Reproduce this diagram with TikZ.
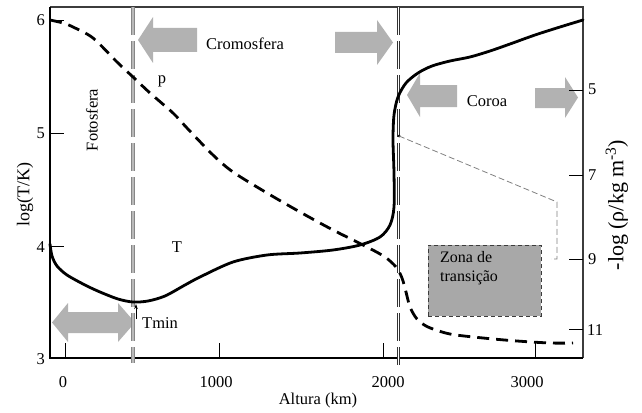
\documentclass[tikz,border=0pt]{standalone}
\usepackage{fontspec}
\setmainfont{Liberation Serif}
\usetikzlibrary{arrows.meta}
\definecolor{arrowgray}{RGB}{178,178,178}
\definecolor{boxgray}{RGB}{168,168,168}
\definecolor{framegray}{RGB}{60,60,60}
\begin{document}
\begin{tikzpicture}[x=1pt,y=-1pt,
  lbl/.style={font=\fontsize{16.5}{19}\selectfont, inner sep=0pt},
  blockarrow/.style={fill=arrowgray, draw=none},
  tcurve/.style={line width=2.8pt, line join=round, line cap=round},
  rhocurve/.style={line width=2.8pt, dash pattern=on 12pt off 7pt},
  vlineA/.style={draw=gray!95, line width=1.3pt, double=gray!55, double distance=1.1pt, dash pattern=on 28pt off 6pt},
  vlineB/.style={draw=black!80, line width=0.8pt, double=white, double distance=1.3pt, dash pattern=on 28pt off 6pt},
  tickmark/.style={line width=0.9pt},
  leader/.style={draw=gray, line width=0.8pt, dash pattern=on 6pt off 3pt}]
\useasboundingbox (0,0) rectangle (642,412);

% block arrows
\fill[blockarrow] (138,40) -- (153,17) -- (153,28) -- (197,28) -- (197,52) -- (153,52) -- (153,63) -- cycle;
\fill[blockarrow] (335,32) -- (377,32) -- (377,20) -- (393,42.5) -- (377,65) -- (377,53) -- (335,53) -- cycle;
\fill[blockarrow] (407,95) -- (420,73) -- (420,85) -- (457,85) -- (457,107) -- (420,107) -- (420,117) -- cycle;
\fill[blockarrow] (535,88) -- (565,88) -- (565,77) -- (578,97.5) -- (565,118) -- (565,108) -- (535,108) -- cycle;
\fill[blockarrow] (52,322.5) -- (68,303) -- (68,312) -- (118,312) -- (118,303) -- (135,322.5) -- (118,342) -- (118,333) -- (68,333) -- (68,342) -- cycle;

% transition zone box
\node[draw=framegray, fill=boxgray, line width=0.9pt, dash pattern=on 4pt off 3pt,
      minimum width=113pt, minimum height=71pt, inner sep=0pt, anchor=north west] (zona) at (428,245) {};
\node[lbl, font=\fontsize{16}{19}\selectfont, align=left, anchor=north west] (zonatxt) at (440,251) {Zona de\\transição};

% frame
\draw[framegray, line width=1.2pt] (50,7) -- (583,7) -- (583,358);
\draw[black, line width=1.3pt] (50,7) -- (50,358) -- (583,358);

% vertical boundary lines
\coordinate (vAtop) at (133,7); \coordinate (vAbot) at (133,363);
\coordinate (vBtop) at (398.5,7); \coordinate (vBbot) at (398.5,365);
\draw[vlineA] (vAtop) -- (vAbot);
\draw[vlineB] (vBtop) -- (vBbot);

% ticks left
\foreach \yy in {20.5,133,246} \draw[tickmark] (50,\yy) -- (64,\yy);
% ticks bottom
\foreach \xx in {65,219,383,535} \draw[tickmark] (\xx,358) -- (\xx,343);
% ticks right
\foreach \yy in {90,175,259,329} \draw[tickmark] (583,\yy) -- (569,\yy);

% tick labels
\node[lbl, anchor=east] (l6) at (45,20) {6};
\node[lbl, anchor=east] (l5) at (45,133) {5};
\node[lbl, anchor=east] (l4) at (45,247) {4};
\node[lbl, anchor=east] (l3) at (45,359) {3};
\node[lbl] (b0) at (63,382) {0};
\node[lbl] (b1000) at (216,382) {1000};
\node[lbl] (b2000) at (388,382) {2000};
\node[lbl] (b3000) at (527,382) {3000};
\node[lbl, anchor=west] (r5) at (588,89) {5};
\node[lbl, anchor=west] (r7) at (588,175) {7};
\node[lbl, anchor=west] (r9) at (588,259) {9};
\node[lbl, anchor=west] (r11) at (587,330) {11};

% axis titles
\node[lbl] (xtitle) at (318,401) {Altura (km)};
\node[lbl, font=\fontsize{18}{20}\selectfont, rotate=90] (ytitle) at (25,195) {log(T/K)};
\node[lbl, font=\fontsize{22}{24}\selectfont, rotate=90] (y2title) at (617,205) {-log (ρ/kg m\textsuperscript{-3})};

% density curve
\draw[rhocurve] plot[smooth, tension=0.5] coordinates {(50,20) (63,23) (73,27) (93,38) (117,62) (133,77) (150,93) (173,113) (187,128) (213,155) (233,172) (267,193) (300,212) (333,230) (367,247) (385,257) (396,267) (402,278) (406,292) (410,307) (417,319) (428,327) (450,334) (483,338) (517,341) (550,343) (573,343)};

% temperature curve
\draw[tcurve] plot[smooth, tension=0.5] coordinates {(50,244) (52,256) (57,266) (67,275) (85,285) (100,292) (118,299) (133,302) (148,301) (165,296) (185,285) (200,277) (233,262) (267,255) (300,253) (333,250) (360,245) (380,237) (390,225) (394,207) (394,173) (393,140) (394,115) (398,97) (406,83) (418,73) (432,66) (450,61) (470,57) (490,51) (510,44) (535,35) (560,27) (583,20)};

% leader to transition zone
\coordinate (ldA) at (399,136);
\coordinate (ldB) at (557,202);
\coordinate (ldC) at (557,259);
\coordinate (ldD) at (551,259);
\fill (ldA) circle (1.5pt);
\draw[leader] (ldA) -- (ldB) -- (ldC) -- (ldD);

% labels
\node[lbl] (crom) at (245,44) {Cromosfera};
\node[lbl] (coroa) at (487,101) {Coroa};
\node[lbl, rotate=90] (foto) at (92,120) {Fotosfera};
\node[lbl] (p) at (162,81) {p};
\node[lbl] (T) at (177,247) {T};
\node[lbl, anchor=west] (tmin) at (142,323) {Tmin};
\coordinate (tminpt) at (136,304);
\draw[line width=0.8pt, -{Stealth[length=5pt,width=3.5pt]}] (136,319) -- (tminpt);
\end{tikzpicture}
\end{document}
